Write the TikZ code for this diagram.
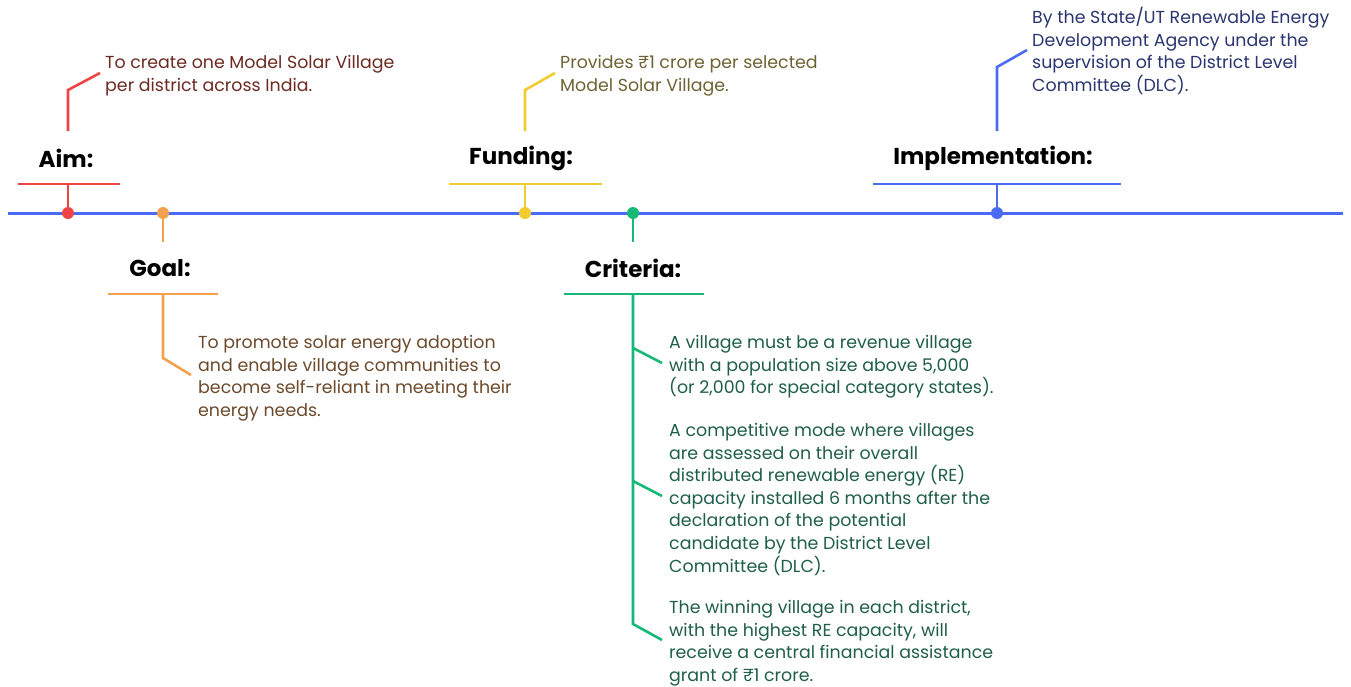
\documentclass[tikz,border=0pt]{standalone}
\usepackage{fontspec}
\setmainfont{Poppins}
\definecolor{cline}{HTML}{4A6CF5}
\definecolor{cred}{HTML}{EF4444}
\definecolor{corange}{HTML}{F2A24E}
\definecolor{cyellow}{HTML}{F0CC2E}
\definecolor{cgreen}{HTML}{17B978}
\definecolor{cblue}{HTML}{4A6CF5}
\definecolor{tred}{HTML}{6B2A22}
\definecolor{torange}{HTML}{6B4A2C}
\definecolor{tyellow}{HTML}{6E6232}
\definecolor{tgreen}{HTML}{1F5E4A}
\definecolor{tblue}{HTML}{2A3570}
\tikzset{
  head/.style={font=\fontsize{23}{27}\selectfont\bfseries, inner sep=0pt},
  body/.style={font=\fontsize{17.4}{22.6}\selectfont, align=left, inner sep=0pt, anchor=north west},
  conn/.style={line width=2.6pt},
  dotn/.style={circle, inner sep=0pt, minimum size=12pt},
}
\begin{document}
\begin{tikzpicture}[x=1pt,y=-1pt]
\useasboundingbox (0,0) rectangle (1351,686);
% timeline
\coordinate (tl0) at (8,213);
\coordinate (tl1) at (1343,213);
\draw[cline, line width=3pt] (tl0) -- (tl1);

% ---- Aim
\node[dotn, fill=cred] (aimdot) at (68,213) {};
\coordinate (aimbar) at (68,184);
\coordinate (aimbarL) at (18,184);
\coordinate (aimbarR) at (120,184);
\draw[conn, cred] (aimbarL) -- (aimbarR);
\draw[conn, cred] (aimdot.center) -- (aimbar);
\node[head] (aimh) at (66,158) {Aim:};
\coordinate (aimL0) at (68,131);
\coordinate (aimL1) at (68,90);
\coordinate (aimL2) at (100,73);
\draw[conn, cred] (aimL0) -- (aimL1) -- (aimL2);
\node[body, text=tred] (aimt) at (105,55) {To create one Model Solar Village\\per district across India.};

% ---- Goal
\node[dotn, fill=corange] (goaldot) at (163,213) {};
\coordinate (goalstub) at (163,242);
\coordinate (goalbar) at (163,294);
\coordinate (goalbarL) at (108,294);
\coordinate (goalbarR) at (218,294);
\draw[conn, corange] (goalbarL) -- (goalbarR);
\draw[conn, corange] (goaldot.center) -- (goalstub);
\node[head] (goalh) at (160,268) {Goal:};
\coordinate (goalL1) at (163,358);
\coordinate (goalL2) at (191,375);
\draw[conn, corange] (goalbar) -- (goalL1) -- (goalL2);
\node[body, text=torange] (goalt) at (198,335) {To promote solar energy adoption\\and enable village communities to\\become self-reliant in meeting their\\energy needs.};

% ---- Funding
\node[dotn, fill=cyellow] (funddot) at (525,213) {};
\coordinate (fundbar) at (525,184);
\coordinate (fundbarL) at (449,184);
\coordinate (fundbarR) at (602,184);
\draw[conn, cyellow] (fundbarL) -- (fundbarR);
\draw[conn, cyellow] (funddot.center) -- (fundbar);
\node[head] (fundh) at (521,158) {Funding:};
\coordinate (fundL0) at (525,131);
\coordinate (fundL1) at (525,90);
\coordinate (fundL2) at (555,73);
\draw[conn, cyellow] (fundL0) -- (fundL1) -- (fundL2);
\node[body, text=tyellow] (fundt) at (560,55) {Provides ₹1 crore per selected\\Model Solar Village.};

% ---- Criteria
\node[dotn, fill=cgreen] (critdot) at (633,213) {};
\coordinate (critstub) at (633,242);
\coordinate (critbar) at (633,294);
\coordinate (critbarL) at (564,294);
\coordinate (critbarR) at (704,294);
\draw[conn, cgreen] (critbarL) -- (critbarR);
\draw[conn, cgreen] (critdot.center) -- (critstub);
\node[head] (crith) at (633,268) {Criteria:};
\coordinate (critA) at (633,348);
\coordinate (critB) at (633,481);
\coordinate (critC) at (633,624);
\coordinate (critA2) at (662,363);
\coordinate (critB2) at (662,496);
\coordinate (critC2) at (662,640);
\draw[conn, cgreen] (critbar) -- (critC) -- (critC2);
\draw[conn, cgreen] (critA) -- (critA2);
\draw[conn, cgreen] (critB) -- (critB2);
\node[body, text=tgreen] (crit1) at (669,335) {A village must be a revenue village\\with a population size above 5,000\\(or 2,000 for special category states).};
\node[body, text=tgreen] (crit2) at (669,423) {A competitive mode where villages\\are assessed on their overall\\distributed renewable energy (RE)\\capacity installed 6 months after the\\declaration of the potential\\candidate by the District Level\\Committee (DLC).};
\node[body, text=tgreen] (crit3) at (669,600) {The winning village in each district,\\with the highest RE capacity, will\\receive a central financial assistance\\grant of ₹1 crore.};

% ---- Implementation
\node[dotn, fill=cblue] (impdot) at (997,213) {};
\coordinate (impbar) at (997,184);
\coordinate (impbarL) at (873,184);
\coordinate (impbarR) at (1121,184);
\draw[conn, cblue] (impbarL) -- (impbarR);
\draw[conn, cblue] (impdot.center) -- (impbar);
\node[head] (imph) at (993,158) {Implementation:};
\coordinate (impL0) at (997,131);
\coordinate (impL1) at (997,67);
\coordinate (impL2) at (1027,50);
\draw[conn, cblue] (impL0) -- (impL1) -- (impL2);
\node[body, text=tblue] (impt) at (1032,7) {By the State/UT Renewable Energy\\Development Agency under the\\supervision of the District Level\\Committee (DLC).};
\end{tikzpicture}
\end{document}
